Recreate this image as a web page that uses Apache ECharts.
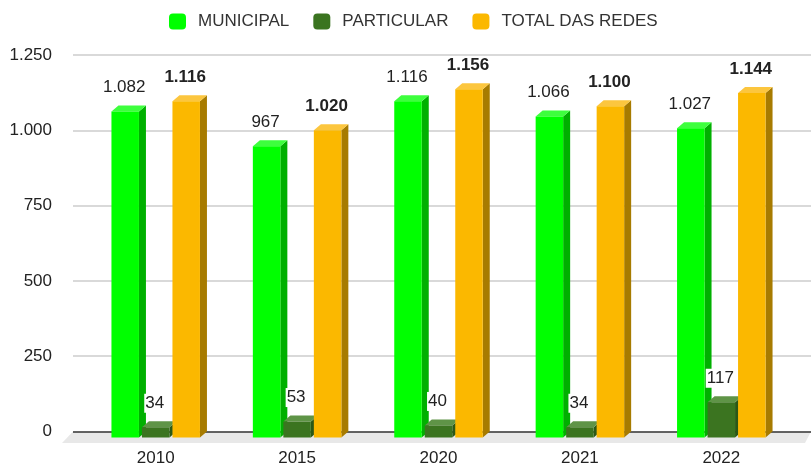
<!DOCTYPE html>
<html>
<head>
<meta charset="utf-8">
<script src="https://cdn.jsdelivr.net/npm/echarts@6/dist/echarts.min.js"></script>
<style>
  html, body { margin: 0; padding: 0; background: #fff; }
  #chart { width: 811px; height: 465px; }
</style>
</head>
<body>
<div id="chart"></div>
<script>
const years = ['2010', '2015', '2020', '2021', '2022']
const municipal = [1082, 967, 1116, 1066, 1027]
const particular = [34, 53, 40, 34, 117]
const total = [1116, 1020, 1156, 1100, 1144]
const yTicks = [0, 250, 500, 750, 1000, 1250]

const seriesNames = ['MUNICIPAL', 'PARTICULAR', 'TOTAL DAS REDES']
const faces = [
  { front: '#00ff00', top: '#3dff3d', side: '#00b000' },
  { front: '#3b7420', top: '#5f9447', side: '#2b5816' },
  { front: '#fbb800', top: '#fcc63e', side: '#a77b00' }
]

// depth of the fake 3d
const DX = 7
const DY = 6
const BAR_W = 27.5
const PITCH = 30.5

const fmt = v => v >= 1000 ? Math.floor(v / 1000) + '.' + String(v % 1000).padStart(3, '0') : String(v)

const chart = echarts.init(document.getElementById('chart'), null, { renderer: 'canvas' })

const makeRender = (idx) => (params, api) => {
  const cat = api.value(0)
  const val = api.value(1)
  const c0 = api.coord([cat, 0])
  const c1 = api.coord([cat, val])
  const cx = c0[0] + (idx - 1) * PITCH
  const x0 = cx - BAR_W / 2
  const x1 = cx + BAR_W / 2
  const yb = c0[1] + DY
  const yt = c1[1] + DY
  const f = faces[idx]
  const children = [
    { type: 'polygon', shape: { points: [[x1, yt], [x1 + DX, yt - DY], [x1 + DX, yb - DY], [x1, yb]] }, style: { fill: f.side } },
    { type: 'polygon', shape: { points: [[x0, yt], [x0 + DX, yt - DY], [x1 + DX, yt - DY], [x1, yt]] }, style: { fill: f.top } },
    { type: 'rect', shape: { x: x0, y: yt, width: BAR_W, height: yb - yt }, style: { fill: f.front } },
    {
      type: 'text',
      z2: 10,
      style: {
        x: cx - 1,
        y: yt - DY - 18,
        text: fmt(val),
        align: 'center',
        verticalAlign: 'middle',
        fontFamily: 'Liberation Sans, Arial, sans-serif',
        fontSize: 17,
        fontWeight: idx === 2 ? 'bold' : 'normal',
        fill: '#222',
        backgroundColor: idx === 1 ? '#fff' : null,
        padding: idx === 1 ? [1, 1] : 0
      }
    }
  ]
  return { type: 'group', children }
}

const seriesData = [municipal, particular, total]

chart.setOption({
  animation: false,
  textStyle: { fontFamily: 'Liberation Sans, Arial, sans-serif' },
  legend: {
    data: seriesNames.map((n, i) => ({ name: n, itemStyle: { color: faces[i].front } })),
    top: 13,
    left: 169,
    padding: 0,
    itemWidth: 17,
    itemHeight: 16,
    itemGap: 24,
    icon: 'roundRect',
    textStyle: { fontSize: 17, color: '#333', padding: [0, 0, 0, 7] }
  },
  graphic: [{
    type: 'polygon',
    z: -10,
    shape: { points: [[73, 431.5], [811, 431.5], [805, 443], [62, 443]] },
    style: { fill: '#e8e8e8' }
  }],
  grid: [
    { left: 73, right: 0, top: 55, bottom: 33.5, outerBoundsMode: 'none' },
    { left: 85, right: 19, top: 55, bottom: 33.5, outerBoundsMode: 'none' }
  ],
  xAxis: [
    { gridIndex: 0, type: 'value', min: 0, max: 1, show: false },
    {
      gridIndex: 1,
      type: 'category',
      data: years,
      axisLine: { show: false },
      axisTick: { show: false },
      axisLabel: { fontSize: 17, color: '#222', margin: 18.5 }
    }
  ],
  yAxis: [
    {
      gridIndex: 0,
      type: 'value',
      min: yTicks[0],
      max: yTicks[yTicks.length - 1],
      interval: 250,
      axisLine: { show: false },
      axisTick: { show: false },
      axisLabel: { fontSize: 17, color: '#222', margin: 21, formatter: v => fmt(v) },
      splitLine: { lineStyle: { color: ['#333', '#ccc', '#ccc', '#ccc', '#ccc', '#ccc'], width: 1.5 } }
    },
    {
      gridIndex: 1,
      type: 'value',
      min: yTicks[0],
      max: yTicks[yTicks.length - 1],
      show: false
    }
  ],
  series: seriesNames.map((name, i) => ({
    name,
    type: 'custom',
    xAxisIndex: 1,
    yAxisIndex: 1,
    itemStyle: { color: faces[i].front },
    renderItem: makeRender(i),
    encode: { x: 0, y: 1 },
    data: seriesData[i].map((v, k) => [k, v])
  }))
})
</script>
</body>
</html>
